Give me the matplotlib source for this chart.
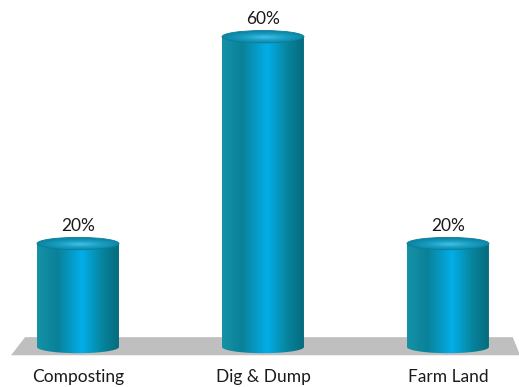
import matplotlib.pyplot as plt
import numpy as np
from matplotlib.patches import Ellipse, Polygon, PathPatch
from matplotlib.path import Path
from matplotlib.colors import LinearSegmentedColormap

# data
categories = ["Composting", "Dig & Dump", "Farm Land"]
values = [20, 60, 20]
value_labels = ["20%", "60%", "20%"]

plt.rcParams['font.family'] = ['Lato', 'DejaVu Sans']

fig = plt.figure(figsize=(5.19, 3.87), dpi=100)
ax = fig.add_axes([0, 0, 1, 1])
ax.set_axis_off()

bar_w = 0.443
eh = 2.4  # ellipse height in data units

# body gradient, left -> right
body_cmap = LinearSegmentedColormap.from_list(
    "body", [(0.0, "#1592a6"), (0.25, "#0a8199"), (0.55, "#02aee9"),
             (0.8, "#07849c"), (1.0, "#056b7c")])
top_cmap = LinearSegmentedColormap.from_list(
    "top", [(0.0, "#40c0e8"), (0.5, "#1b9fc4"), (1.0, "#0d86a5")])

# floor
floor = Polygon([(-0.362, -1.6), (2.39, -1.6), (2.35, 1.9), (-0.286, 1.9)],
                closed=True, facecolor="#bfbfbf", edgecolor="none", zorder=1)
ax.add_patch(floor)

for i, (v, lab, cat) in enumerate(zip(values, value_labels, categories)):
    x0 = i - bar_w / 2
    x1 = i + bar_w / 2
    # body outline: lower half ellipse + rectangle
    t = np.linspace(np.pi, 2 * np.pi, 40)
    bx = i + bar_w / 2 * np.cos(t)
    by = eh / 2 * np.sin(t)
    verts = list(zip(bx, by)) + [(x1, v), (x0, v), (x0, 0)]
    codes = [Path.MOVETO] + [Path.LINETO] * (len(verts) - 2) + [Path.CLOSEPOLY]
    clip = PathPatch(Path(verts, codes), facecolor="none", edgecolor="none")
    ax.add_patch(clip)
    grad = np.linspace(0, 1, 256).reshape(1, -1)
    im = ax.imshow(grad, cmap=body_cmap, aspect="auto",
                   extent=(x0, x1, -eh, v), zorder=2, interpolation="bilinear")
    im.set_clip_path(clip)

    # top ellipse with radial shading
    rx = np.linspace(-1, 1, 120)
    ry = np.linspace(-1, 1, 40)
    XX, YY = np.meshgrid(rx, ry)
    rr = np.sqrt(((XX - 0.05) / 1.0) ** 2 + ((YY + 0.1) / 0.9) ** 2)
    top = Ellipse((i, v), bar_w, eh, facecolor="none", edgecolor="none")
    ax.add_patch(top)
    im2 = ax.imshow(np.clip(rr, 0, 1), cmap=top_cmap, aspect="auto",
                    extent=(x0, x1, v - eh / 2, v + eh / 2), zorder=3,
                    interpolation="bilinear", origin="lower")
    im2.set_clip_path(top)
    ax.add_patch(Ellipse((i, v), bar_w, eh, facecolor="none",
                         edgecolor="#0a7f98", linewidth=0.6, zorder=4))

    ax.text(i, v + 3.4, lab, ha="center", va="center", fontsize=12.5,
            color="#1a1a1a")
    ax.text(i, -5.8, cat, ha="center", va="center", fontsize=12.5,
            color="#1a1a1a")

ax.set_xlim(-0.4216, 2.384)
ax.set_ylim(-7.74, 67.1)

fig.savefig("out.png", dpi=100)
